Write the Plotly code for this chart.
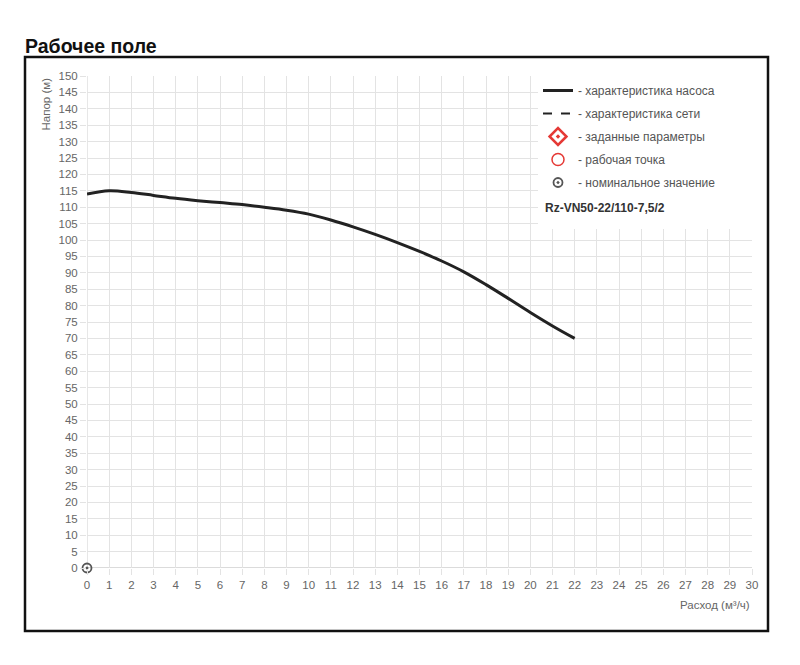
import plotly.graph_objects as go

# Pump characteristic (flow m3/h, head m)
flow = [0, 1, 2, 3, 4, 5, 6, 7, 8, 9, 10, 11, 12, 13, 14, 15, 16, 17, 18, 19, 20, 21, 22]
head = [114.0, 115.0, 114.5, 113.6, 112.7, 112.0, 111.4, 110.8, 110.0, 109.1, 107.9, 106.1,
        104.0, 101.7, 99.2, 96.5, 93.6, 90.3, 86.4, 82.2, 77.9, 73.8, 70.0]
nominal_flow = [0]
nominal_head = [0]

x_ticks = list(range(0, 31))
y_ticks = list(range(0, 151, 5))

legend_names = ["- характеристика насоса", "- характеристика сети", "- заданные параметры",
                "- рабочая точка", "- номинальное значение"]
model_name = "Rz-VN50-22/110-7,5/2"
chart_title = "Рабочее поле"
x_title = "Расход (м³/ч)"
y_title = "Напор (м)"

# page body has an 8px margin: figure coordinates = window coordinates - 8
OFF = 8
W, H = 800 - OFF, 665 - OFF
L, R, T, B = 87 - OFF, 48, 76 - OFF, 97
pw, ph = W - L - R, H - T - B

def px_x(p):  # window pixel -> paper x
    return (p - OFF - L) / pw

def px_y(p):  # window pixel -> paper y
    return (H - B - (p - OFF)) / ph

FONT = "Liberation Sans, Arial, sans-serif"

fig = go.Figure()
fig.add_trace(go.Scatter(x=flow, y=head, mode="lines", name=legend_names[0],
                         line=dict(color="#222222", width=3, shape="spline", smoothing=1),
                         legendgroup="a"))
fig.add_trace(go.Scatter(x=[None], y=[None], mode="lines", name=legend_names[1],
                         line=dict(color="#222222", width=2, dash="dash"), legendgroup="b"))
fig.add_trace(go.Scatter(x=[None], y=[None], mode="markers", name=legend_names[2],
                         marker=dict(symbol="diamond-open-dot", size=13, color="#e53935",
                                     line=dict(width=2.5, color="#e53935")), legendgroup="c"))
fig.add_trace(go.Scatter(x=[None], y=[None], mode="markers", name=legend_names[3],
                         marker=dict(symbol="circle-open", size=12, color="#e53935",
                                     line=dict(width=1.5, color="#e53935")), legendgroup="d"))
fig.add_trace(go.Scatter(x=nominal_flow, y=nominal_head, mode="markers", name=legend_names[4],
                         marker=dict(symbol="circle-open-dot", size=9, color="#555555",
                                     line=dict(width=1.8, color="#555555")),
                         cliponaxis=False, legendgroup="e"))

axis_common = dict(showgrid=True, gridcolor="#e3e3e3", gridwidth=1, zeroline=False,
                   showline=False, ticks="outside", ticklen=6, tickcolor="#e3e3e3",
                   tickfont=dict(family=FONT, size=11.5, color="#666666"),
                   fixedrange=True)

fig.update_xaxes(range=[0, 30], tickmode="array", tickvals=x_ticks,
                 ticktext=[str(v) for v in x_ticks], **axis_common)
fig.update_yaxes(range=[0, 150], tickmode="array", tickvals=y_ticks,
                 ticktext=[str(v) for v in y_ticks], **axis_common)

shapes = [
    dict(type="line", xref="x", yref="y", x0=0, x1=30, y0=0, y1=0,
         line=dict(color="#cfcfcf", width=1.5), layer="below"),
    dict(type="line", xref="x", yref="y", x0=0, x1=0, y0=0, y1=150,
         line=dict(color="#cfcfcf", width=1), layer="below"),
    dict(type="rect", xref="paper", yref="paper", x0=px_x(538), x1=1.0, y0=px_y(229), y1=1.0,
         fillcolor="white", line=dict(width=0), layer="above"),
    dict(type="rect", xref="paper", yref="paper", x0=px_x(25), x1=px_x(768),
         y0=px_y(631), y1=px_y(57), line=dict(color="#111111", width=2.5), layer="above"),
]

annotations = [
    dict(text=y_title, xref="paper", yref="paper", x=px_x(45), y=px_y(76),
         xanchor="center", yanchor="top", textangle=-90, showarrow=False,
         font=dict(family=FONT, size=11.5, color="#666666")),
    dict(text=x_title, xref="paper", yref="paper", x=1.0, y=px_y(605),
         xanchor="right", yanchor="middle", showarrow=False,
         font=dict(family=FONT, size=11.5, color="#666666")),
    dict(text="<b>" + model_name + "</b>", xref="paper", yref="paper", x=px_x(543), y=px_y(208),
         xanchor="left", yanchor="middle", showarrow=False,
         font=dict(family=FONT, size=12, color="#333333")),
]

fig.update_layout(
    width=W, height=H,
    margin=dict(l=L, r=R, t=T, b=B),
    paper_bgcolor="white", plot_bgcolor="white",
    title=dict(text="<b>" + chart_title + "</b>", x=(25 - OFF) / W, xanchor="left", xref="container",
               y=1 - (46 - OFF) / H, yanchor="middle",
               font=dict(family=FONT, size=19.5, color="#111111")),
    showlegend=True,
    legend=dict(x=px_x(538), y=px_y(76), xanchor="left", yanchor="top",
                bgcolor="white", borderwidth=0, tracegroupgap=4, itemwidth=30,
                font=dict(family=FONT, size=12, color="#555555")),
    shapes=shapes, annotations=annotations,
)

fig.write_html("out.html")
